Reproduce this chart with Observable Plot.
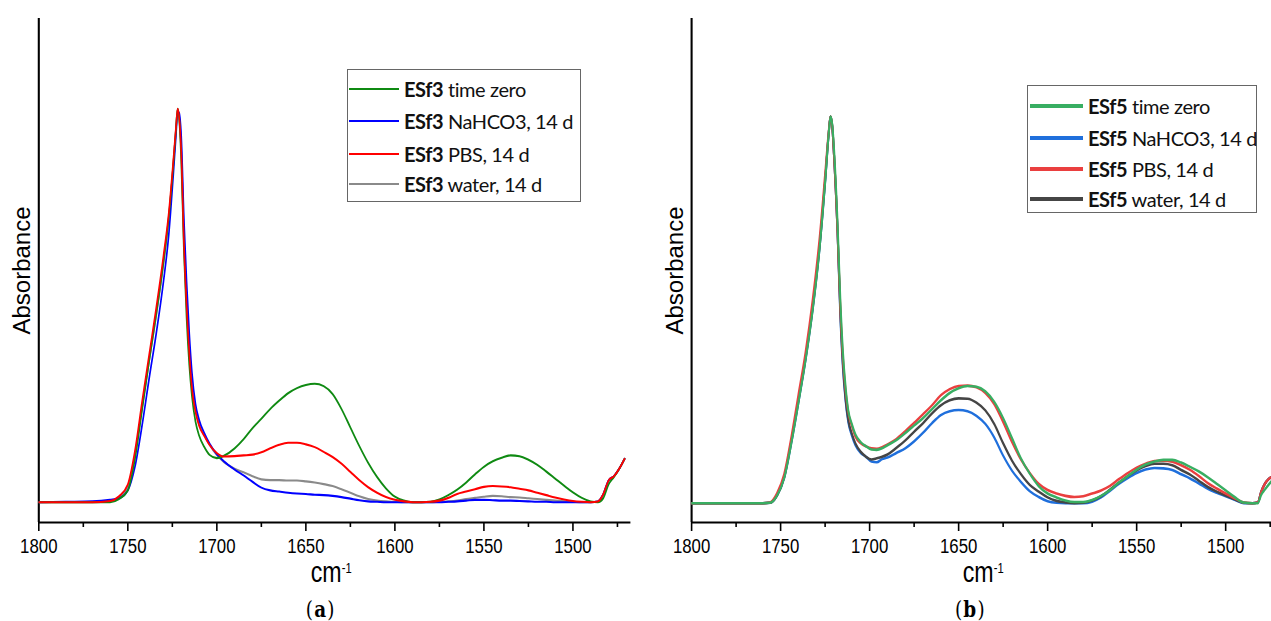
<!DOCTYPE html>
<html><head><meta charset="utf-8">
<script src="https://cdn.jsdelivr.net/npm/d3@7"></script>
<script src="https://cdn.jsdelivr.net/npm/@observablehq/plot@0.6"></script>
<style>
html,body{margin:0;padding:0;background:#fff;overflow:hidden}
#stage{position:relative;width:1271px;height:621px;overflow:hidden;background:#fff}
#root{position:absolute;left:0;top:0;width:1589px;height:621px;transform:scaleX(0.8);transform-origin:0 0}
.panel{position:absolute;top:0}
.xlab{position:absolute;font-family:"Liberation Sans",Arial,sans-serif;font-size:29px;color:#000;transform:translateX(-50%);white-space:nowrap;line-height:1}
.xlab sup{font-size:14px;vertical-align:baseline;position:relative;top:-9px}
.cap{position:absolute;font-family:"DejaVu Serif",serif;font-size:23px;letter-spacing:1.5px;color:#000;transform:translateX(-50%);line-height:1;white-space:nowrap}
.legend{position:absolute;border:1px solid #666;background:#fff;box-sizing:border-box;font-family:Lato,"Open Sans",sans-serif;font-size:20px;letter-spacing:-0.4px;color:#111}
.sw{position:absolute}
.lt{position:absolute;white-space:nowrap;line-height:1;transform:translateY(-52%)}
</style></head>
<body>
<div id="stage"><div id="root"></div></div>
<script>
// ---------- data ----------
const majorTicks = [1800, 1750, 1700, 1650, 1600, 1550, 1500];
const minorTicks = [1775, 1725, 1675, 1625, 1575, 1525, 1475];

const wnA = [1800,1785,1770,1760,1755,1750,1746,1742,1738,1734,1730,1727,1724.5,1723,1722,1721,1720,1718.5,1717,1715.5,1714,1712,1710,1707,1704,1700,1696,1690,1685,1680,1675,1670,1665,1660,1655,1650,1645,1640,1635,1630,1625,1620,1615,1610,1605,1600,1595,1590,1585,1580,1575,1570,1565,1560,1555,1550,1545,1540,1535,1530,1525,1520,1515,1510,1505,1500,1495,1490,1486,1483,1480,1477,1474,1471];

const aGreen = [0,0,0,0,0.008,0.03,0.11,0.235,0.36,0.48,0.61,0.725,0.855,0.945,1.0,0.965,0.87,0.64,0.47,0.35,0.27,0.205,0.17,0.14,0.12,0.112,0.118,0.137,0.16,0.188,0.212,0.237,0.258,0.277,0.29,0.298,0.301,0.295,0.275,0.237,0.19,0.143,0.1,0.064,0.035,0.014,0.004,0,0,0.001,0.007,0.018,0.032,0.05,0.071,0.09,0.104,0.113,0.119,0.117,0.108,0.095,0.078,0.06,0.042,0.025,0.011,0.002,0,0.01,0.045,0.064,0.085,0.11];
const aBlue = [0,0.001,0.002,0.006,0.01,0.03,0.09,0.195,0.315,0.43,0.56,0.68,0.83,0.93,0.99,0.99,0.93,0.72,0.56,0.43,0.33,0.25,0.21,0.175,0.148,0.122,0.104,0.083,0.068,0.052,0.037,0.03,0.027,0.024,0.022,0.021,0.019,0.018,0.016,0.013,0.009,0.005,0.002,0.001,0,0,0,0,0,0,0,0.001,0.002,0.004,0.006,0.006,0.005,0.004,0.004,0.003,0.002,0.001,0.001,0,0,0,0,0,0.002,0.02,0.055,0.066,0.085,0.11];
const aRed = [0,0,0,0.003,0.015,0.045,0.13,0.255,0.375,0.495,0.625,0.735,0.865,0.95,1.0,0.97,0.89,0.66,0.5,0.38,0.29,0.23,0.195,0.168,0.145,0.125,0.116,0.117,0.119,0.121,0.127,0.137,0.146,0.151,0.151,0.147,0.14,0.128,0.115,0.098,0.077,0.056,0.038,0.024,0.013,0.006,0.002,0,0,0.001,0.004,0.011,0.021,0.027,0.033,0.039,0.041,0.04,0.038,0.034,0.03,0.024,0.018,0.012,0.007,0.003,0.001,0,0.002,0.02,0.055,0.066,0.085,0.11];
const aGray = [0,0,0,0.003,0.013,0.04,0.12,0.24,0.36,0.475,0.605,0.72,0.855,0.945,1.0,0.975,0.9,0.68,0.52,0.4,0.3,0.235,0.2,0.17,0.145,0.12,0.102,0.085,0.076,0.066,0.058,0.056,0.056,0.055,0.055,0.053,0.05,0.046,0.041,0.033,0.024,0.015,0.008,0.004,0.002,0.001,0,0,0,0,0.001,0.002,0.004,0.008,0.011,0.014,0.016,0.015,0.013,0.012,0.01,0.008,0.006,0.004,0.002,0.001,0,0,0.002,0.02,0.055,0.066,0.085,0.11];

const wnB = [1800,1785,1770,1760,1756,1752,1748,1744,1740,1736,1732,1728,1725,1723,1722,1721,1720,1718,1716.5,1715,1713.5,1712,1710,1708,1705,1702,1699,1696,1693,1690,1685,1680,1675,1670,1665,1660,1655,1650,1645,1640,1635,1630,1625,1620,1615,1610,1605,1600,1595,1590,1585,1580,1575,1570,1565,1560,1555,1550,1545,1540,1535,1530,1525,1520,1515,1510,1505,1500,1495,1490,1485,1482,1480,1478,1476,1474];

const bGreen = [0,0,0,0,0.001,0.02,0.065,0.155,0.26,0.37,0.5,0.665,0.83,0.955,1.0,0.98,0.915,0.72,0.53,0.39,0.3,0.24,0.205,0.178,0.158,0.147,0.139,0.138,0.142,0.15,0.163,0.181,0.201,0.22,0.243,0.266,0.285,0.297,0.303,0.301,0.289,0.262,0.22,0.168,0.116,0.076,0.044,0.025,0.015,0.007,0.003,0.003,0.008,0.019,0.034,0.053,0.07,0.087,0.1,0.108,0.112,0.112,0.105,0.094,0.082,0.067,0.05,0.033,0.016,0.002,0,0,0.022,0.035,0.047,0.058];
const bBlue = [0,0,0,0,0.001,0.02,0.065,0.155,0.26,0.37,0.5,0.665,0.83,0.955,1.0,0.975,0.9,0.7,0.49,0.35,0.265,0.21,0.175,0.15,0.13,0.12,0.108,0.106,0.114,0.118,0.13,0.142,0.16,0.182,0.207,0.228,0.238,0.241,0.238,0.226,0.205,0.17,0.123,0.084,0.055,0.031,0.016,0.005,0.001,0,0,0,0.004,0.015,0.032,0.05,0.065,0.078,0.087,0.091,0.09,0.086,0.075,0.064,0.051,0.037,0.027,0.018,0.009,0,0,0.002,0.03,0.05,0.062,0.068];
const bRed = [0,0,0,0,0.002,0.026,0.075,0.17,0.28,0.39,0.525,0.69,0.85,0.96,1.0,0.975,0.9,0.7,0.51,0.375,0.29,0.235,0.2,0.172,0.155,0.147,0.142,0.141,0.145,0.152,0.166,0.186,0.208,0.23,0.253,0.279,0.295,0.303,0.304,0.3,0.285,0.256,0.21,0.158,0.113,0.078,0.05,0.034,0.025,0.019,0.016,0.018,0.025,0.033,0.045,0.062,0.078,0.092,0.102,0.109,0.11,0.107,0.098,0.086,0.07,0.052,0.038,0.025,0.013,0.002,0,0.002,0.03,0.05,0.062,0.068];
const bBlack = [0,0,0,0,0.001,0.02,0.067,0.16,0.265,0.375,0.505,0.67,0.835,0.955,1.0,0.975,0.9,0.7,0.5,0.36,0.27,0.215,0.18,0.155,0.133,0.12,0.113,0.116,0.12,0.126,0.143,0.162,0.185,0.207,0.232,0.253,0.266,0.271,0.27,0.26,0.24,0.205,0.155,0.11,0.075,0.047,0.03,0.015,0.006,0.002,0,0.001,0.007,0.018,0.035,0.053,0.07,0.085,0.096,0.102,0.102,0.098,0.086,0.074,0.058,0.042,0.03,0.02,0.01,0.001,0,0.002,0.03,0.05,0.062,0.068];

const labelsA = ["time zero", "NaHCO3, 14 d", "PBS, 14 d", "water, 14 d"];
const labelsB = ["time zero", "NaHCO3, 14 d", "PBS, 14 d", "water, 14 d"];
const colorsA = ["#0f8a12", "#0000ff", "#ff0000", "#8a8a8a"];
const colorsB = ["#38ae62", "#1f6fdc", "#ea3f3f", "#454545"];

// ---------- drawing ----------
const root = document.getElementById("root");
const stage = document.getElementById("stage");

function rows(wn, vals) { return wn.map((w, i) => ({wn: w, v: vals[i]})); }

function makePanel(cfg) {
  const marks = [
    Plot.ruleX([cfg.xDomain[0]], {stroke: "#000", strokeWidth: 2.6}),
    Plot.ruleY([cfg.yDomain[0]], {stroke: "#000", strokeWidth: 2}),
    Plot.axisX({ticks: minorTicks, tickSize: 5, tickFormat: () => "", strokeWidth: 2, label: null}),
    Plot.axisX({ticks: majorTicks, tickSize: 9, tickPadding: 7, tickFormat: d => String(d), fontSize: 21, strokeWidth: 2, label: null})
  ];
  for (const s of cfg.order) {
    marks.push(Plot.line(rows(cfg.wn, cfg.series[s]), {x: "wn", y: "v", stroke: cfg.colors[s], strokeWidth: cfg.lw, curve: "monotone-x", clip: true}));
  }
  marks.push(Plot.text(["Absorbance"], {frameAnchor: "left", textAnchor: "middle", rotate: -90, dx: cfg.labelDx, fontSize: 24, fill: "#000", className: "ylab"}));
  const svg = Plot.plot({
    width: cfg.width, height: 560,
    marginLeft: cfg.marginLeft, marginRight: cfg.marginRight, marginTop: 18, marginBottom: 38,
    x: {domain: cfg.xDomain},
    y: {domain: cfg.yDomain, axis: null},
    style: {fontFamily: "'Liberation Sans', Arial, sans-serif", background: "transparent", color: "#000", overflow: "visible"},
    marks
  });
  // undo the horizontal squeeze for the rotated y title (its height runs along screen x)
  svg.querySelectorAll(".ylab text").forEach(t => {
    const tr = t.getAttribute("transform") || "";
    t.setAttribute("transform", tr + " scale(1,1.2)");
  });
  return svg;
}

const pA = makePanel({
  wn: wnA, series: [aGreen, aBlue, aRed, aGray], colors: colorsA, order: [3, 1, 0, 2], lw: 2.1,
  width: 800, marginLeft: 48, marginRight: 12, xDomain: [1800, 1467.5], yDomain: [-0.0516, 1.2295], labelDx: -20
});
pA.classList.add("panel"); pA.style.left = "0px";
root.appendChild(pA);

const pB = makePanel({
  wn: wnB, series: [bGreen, bBlue, bRed, bBlack], colors: colorsB, order: [1, 3, 2, 0], lw: 2.6,
  width: 789, marginLeft: 64, marginRight: 0, xDomain: [1800, 1474.2], yDomain: [-0.0499, 1.2534], labelDx: -20
});
pB.classList.add("panel"); pB.style.left = "800px";
root.appendChild(pB);

function addHTML(parent, html, cls, left, top) {
  const d = document.createElement("div");
  d.className = cls; d.innerHTML = html;
  d.style.left = left + "px"; d.style.top = top + "px";
  parent.appendChild(d);
  return d;
}
// x-axis titles and captions (root coordinates, scaled 0.8 horizontally)
addHTML(root, "cm<sup>-1</sup>", "xlab", 414, 557.5);
addHTML(root, "cm<sup>-1</sup>", "xlab", 1229, 557.5);
addHTML(root, "(<b>a</b>)", "cap", 401, 597);
addHTML(root, "(<b>b</b>)", "cap", 1213, 597);

function legend(prefix, labels, colors, box) {
  const L = document.createElement("div");
  L.className = "legend";
  Object.assign(L.style, {left: box.left + "px", top: box.top + "px", width: box.w + "px", height: box.h + "px"});
  labels.forEach((t, i) => {
    const sw = document.createElement("div");
    sw.className = "sw";
    Object.assign(sw.style, {left: box.lineL + "px", width: box.lineW + "px", top: (box.rows[i] - box.lt / 2) + "px", height: box.lt + "px", background: colors[i]});
    L.appendChild(sw);
    const tx = document.createElement("div");
    tx.className = "lt";
    tx.style.left = box.textL + "px";
    tx.style.top = box.rows[i] + "px";
    tx.innerHTML = "<b>" + prefix + "</b> " + t;
    L.appendChild(tx);
  });
  stage.appendChild(L);
}
legend("ESf3", labelsA, colorsA, {left: 347, top: 69, w: 234, h: 133, lineL: 1, lineW: 50, textL: 56, lt: 2, rows: [19, 51, 84, 114]});
legend("ESf5", labelsB, colorsB, {left: 1027, top: 85, w: 230, h: 128, lineL: 2, lineW: 53, textL: 60, lt: 3.5, rows: [20, 52, 83, 113]});
</script>
</body></html>
